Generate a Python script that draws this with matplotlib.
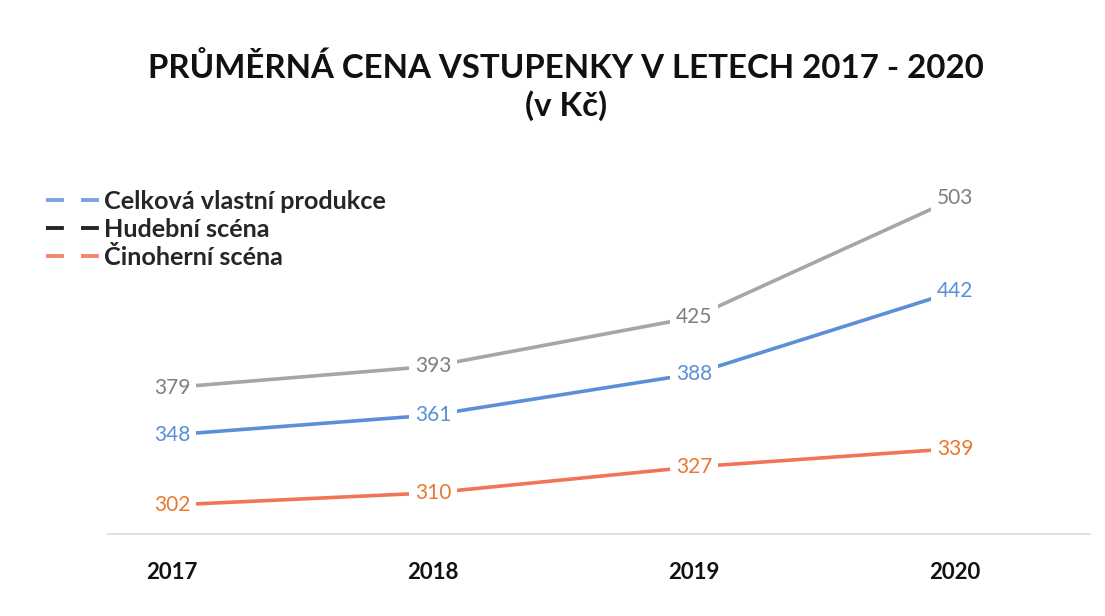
import matplotlib.pyplot as plt
from matplotlib.lines import Line2D

plt.rcParams['font.family'] = ['Lato', 'DejaVu Sans']

years = ['2017', '2018', '2019', '2020']
celkova = [348, 361, 388, 442]
hudebni = [379, 393, 425, 503]
cinoherni = [302, 310, 327, 339]

series_names = ['Celková vlastní produkce', 'Hudební scéna', 'Činoherní scéna']
line_colors = ['#5b8fd6', '#a6a6a6', '#f07556']
label_colors = ['#5b8fd6', '#7f7f7f', '#e8782f']
legend_colors = ['#7aa3dd', '#262626', '#f4876a']

fig = plt.figure(figsize=(11.05, 6.16), dpi=100)
ax = fig.add_axes([108 / 1105, 1 - 534 / 616, (1090 - 108) / 1105, (534 - 180) / 616])

x = list(range(len(years)))
for vals, lc, tc in zip([celkova, hudebni, cinoherni], line_colors, label_colors):
    ax.plot(x, vals, color=lc, lw=2.6, solid_capstyle='round', zorder=2)
    for xi, v in zip(x, vals):
        ax.text(xi, v, str(v), ha='center', va='center', fontsize=15, color=tc,
                zorder=3, bbox=dict(facecolor='white', edgecolor='none', pad=4))

ax.set_xlim(-0.245, 3.517)
ax.set_ylim(283, 515)
ax.set_xticks(x)
ax.set_xticklabels(years, fontsize=16, fontweight='bold', color='#111111')
ax.tick_params(axis='x', length=0, pad=20)
ax.set_yticks([])
for side in ['top', 'right', 'left']:
    ax.spines[side].set_visible(False)
ax.spines['bottom'].set_color('#d9d9d9')
ax.spines['bottom'].set_linewidth(1.2)

fig.text(0.512, 1 - 68 / 616, 'PRŮMĚRNÁ CENA VSTUPENKY V LETECH 2017 - 2020',
         ha='center', va='center', fontsize=23.8, fontweight='bold', color='#111111')
fig.text(0.512, 1 - 106 / 616, '(v Kč)', ha='center', va='center',
         fontsize=23.8, fontweight='bold', color='#111111')

handles = [Line2D([0], [0], color=c, lw=2.8, dashes=(4.6, 4.4)) for c in legend_colors]
leg = fig.legend(handles, series_names, loc='upper left', bbox_to_anchor=(36 / 1105, 1 - 180 / 616),
                 frameon=False, fontsize=18.2, handlelength=2.25, handletextpad=0.05,
                 labelspacing=0.2, borderaxespad=0)
for t in leg.get_texts():
    t.set_color('#262626')
    t.set_fontweight('bold')

fig.savefig('out.png', dpi=100, facecolor='white')
